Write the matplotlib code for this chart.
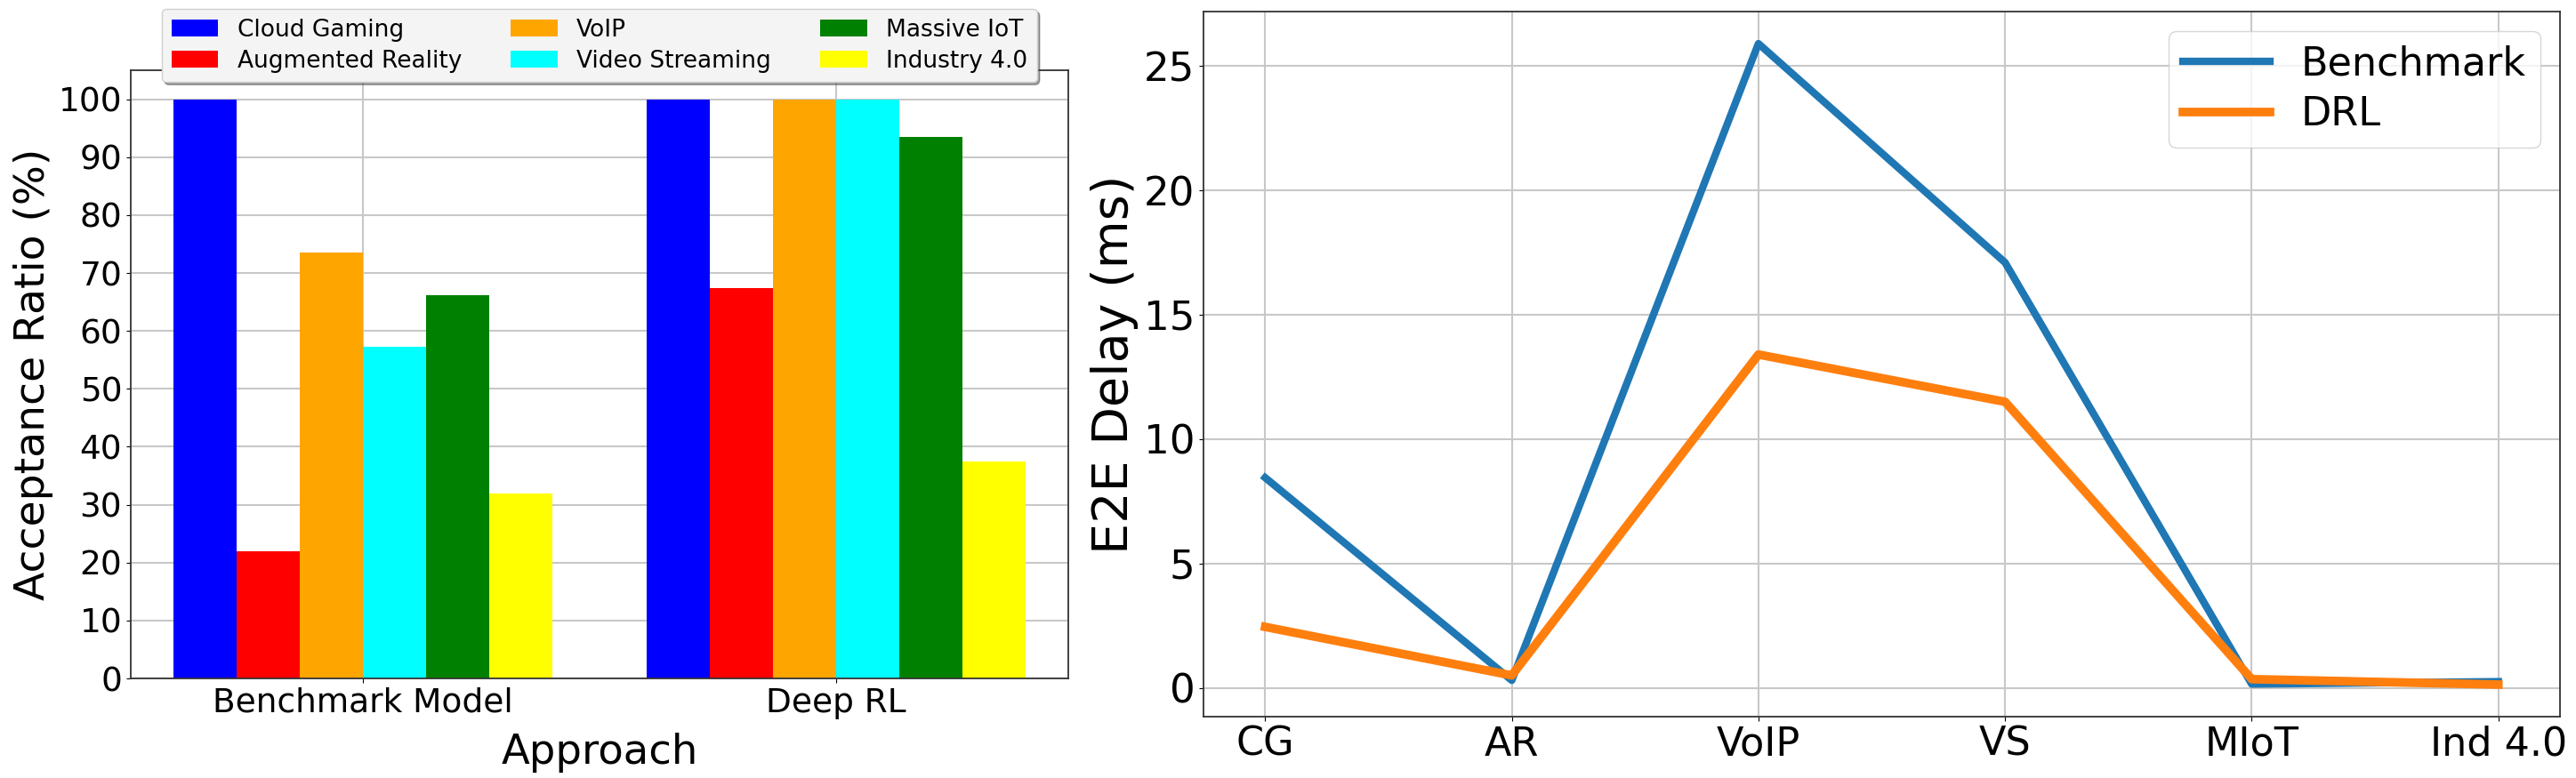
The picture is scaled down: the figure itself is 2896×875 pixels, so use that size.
import matplotlib
matplotlib.use("Agg")
import matplotlib.pyplot as plt
import numpy as np

plt.rcParams['font.family'] = ['DejaVu Sans']

# ---- Data ----
approaches = ["Benchmark Model", "Deep RL"]
services = ["Cloud Gaming", "Augmented Reality", "VoIP", "Video Streaming", "Massive IoT", "Industry 4.0"]
service_colors = ["blue", "red", "orange", "cyan", "green", "yellow"]
acceptance_benchmark = [100, 22.0, 73.5, 57.3, 66.2, 32.0]
acceptance_drl = [100, 67.4, 100, 100, 93.5, 37.5]

delay_labels = ["CG", "AR", "VoIP", "VS", "MIoT", "Ind 4.0"]
delay_benchmark = [8.45, 0.3, 25.9, 17.1, 0.15, 0.25]
delay_drl = [2.45, 0.5, 13.4, 11.5, 0.35, 0.13]

W, H = 2896, 875
fig = plt.figure(figsize=(W / 100, H / 100), dpi=100)

grid_kw = dict(color="#c8c8c8", linewidth=1.5)

# ---- Left: grouped bars ----
ax1 = fig.add_axes([147 / W, 1 - 763 / H, (1201 - 147) / W, (763 - 79) / H])
x = np.arange(len(approaches))
n = len(services)
bw = 0.8 / n
for i, (svc, col) in enumerate(zip(services, service_colors)):
    vals = [acceptance_benchmark[i], acceptance_drl[i]]
    ax1.bar(x + (i - (n - 1) / 2) * bw, vals, width=bw, color=col, label=svc, zorder=2)
ax1.set_xticks(x)
ax1.set_xticklabels(approaches, fontsize=27)
ax1.set_yticks(np.arange(0, 101, 10))
ax1.tick_params(axis="y", labelsize=27)
ax1.set_ylabel("Acceptance Ratio (%)", fontsize=34)
ax1.set_xlabel("Approach", fontsize=33.5, labelpad=11)
ax1.grid(True, **grid_kw)
ax1.set_axisbelow(True)
for s in ax1.spines.values():
    s.set_color("#333333")
    s.set_linewidth(1.3)
ax1.legend(loc="upper center", bbox_to_anchor=(0.5, 1.12), ncol=3, fontsize=19,
           fancybox=True, shadow=True, framealpha=1, facecolor="#f4f4f4",
           edgecolor="#d0d0d0", columnspacing=2.1, labelspacing=0.35)

# ---- Right: lines ----
ax2 = fig.add_axes([1353 / W, 1 - 806 / H, (2878 - 1353) / W, (806 - 13) / H])
xi = np.arange(len(delay_labels))
ax2.plot(xi, delay_benchmark, color="#1f77b4", linewidth=6, label="Benchmark", zorder=3)
ax2.plot(xi, delay_drl, color="#ff7f0e", linewidth=7, label="DRL", zorder=4)
ax2.set_xticks(xi)
ax2.set_xticklabels(delay_labels, fontsize=32)
ax2.set_yticks([0, 5, 10, 15, 20, 25])
ax2.tick_params(axis="y", labelsize=32.5)
ax2.set_ylabel("E2E Delay (ms)", fontsize=40)
ax2.grid(True, **grid_kw)
ax2.set_axisbelow(True)
for s in ax2.spines.values():
    s.set_color("#333333")
    s.set_linewidth(1.3)
ax2.legend(loc="upper right", fontsize=32, framealpha=0.8,
           labelspacing=0.3, borderpad=0.35, handlelength=2.2)

fig.savefig("out.png", dpi=100)
